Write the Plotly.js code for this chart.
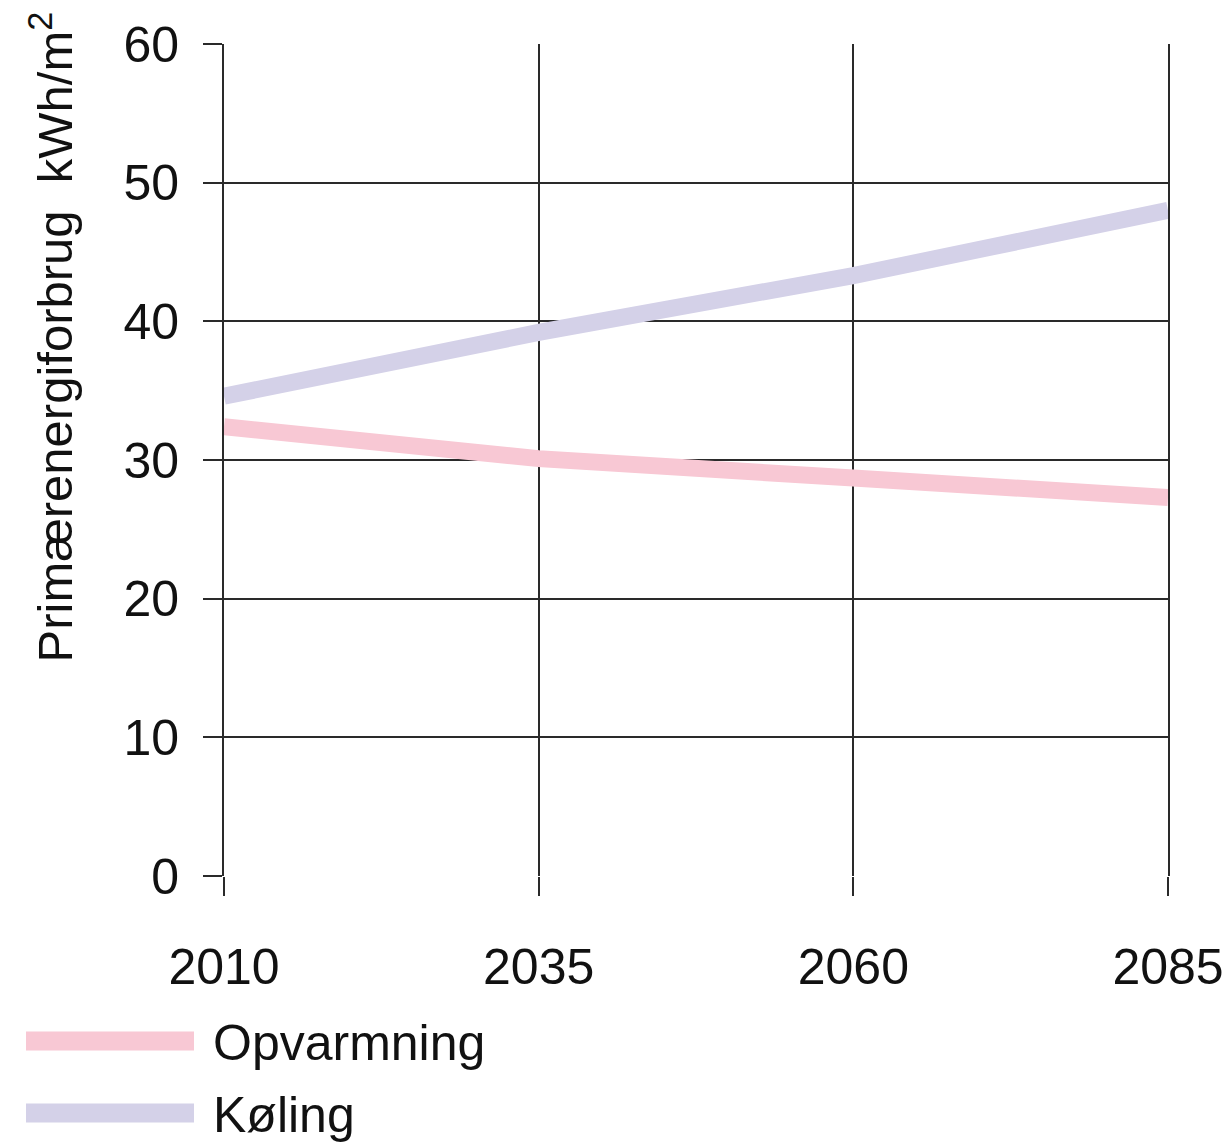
<!DOCTYPE html>
<html>
<head>
<meta charset="utf-8">
<script src="https://cdn.plot.ly/plotly-3.0.1.min.js"></script>
<style>html,body{margin:0;padding:0;background:#fff;}#chart{width:1228px;height:1144px;}</style>
</head>
<body>
<div id="chart"></div>
<script>
var years = [2010, 2035, 2060, 2085];
var opvarmning = [32.4, 30.1, 28.7, 27.3];
var koling = [34.6, 39.2, 43.3, 48.0];
var seriesNames = ["Opvarmning", "Køling"];
var seriesColors = ["#f8c8d4", "#d4d1e8"];
var yTicks = [0, 10, 20, 30, 40, 50, 60];
var yTitle = "Primærenergiforbrug  kWh/m<sup>2</sup>";

var FONT = "'Liberation Sans Narrow', 'Arial Narrow', 'Liberation Sans', Arial, sans-serif";
var W = 1228, H = 1144;
var M = {l: 224, r: 60, t: 44, b: 268};
var PW = W - M.l - M.r, PH = H - M.t - M.b;
function px(x) { return (x - M.l) / PW; }
function py(y) { return (H - M.b - y) / PH; }

var traces = [
  {x: years, y: opvarmning, name: seriesNames[0], mode: "lines",
   line: {color: seriesColors[0], width: 17}, showlegend: false},
  {x: years, y: koling, name: seriesNames[1], mode: "lines",
   line: {color: seriesColors[1], width: 17}, showlegend: false}
];

var legendY = [1041, 1113];
var shapes = [], annotations = [];
for (var i = 0; i < seriesNames.length; i++) {
  shapes.push({type: "line", xref: "paper", yref: "paper",
    x0: px(26), x1: px(194), y0: py(legendY[i]), y1: py(legendY[i]),
    line: {color: seriesColors[i], width: 19}});
  annotations.push({xref: "paper", yref: "paper", x: px(211), y: py(legendY[i] + 2),
    xanchor: "left", yanchor: "middle", showarrow: false, text: seriesNames[i],
    font: {family: FONT, size: 50, color: "#111"}});
}
annotations.push({xref: "paper", yref: "paper", x: px(18), y: py(10),
  xanchor: "left", yanchor: "top", showarrow: false, textangle: -90,
  text: yTitle, font: {family: FONT, size: 49, color: "#111"}});

var layout = {
  width: W, height: H,
  margin: M,
  paper_bgcolor: "#fff", plot_bgcolor: "#fff",
  showlegend: false,
  font: {family: FONT, size: 50, color: "#111"},
  xaxis: {
    range: [2010, 2085], tickmode: "array", tickvals: years, ticktext: years.map(String),
    showgrid: true, gridcolor: "#2a2a2a", gridwidth: 2, zeroline: false,
    ticks: "outside", ticklen: 19, tickwidth: 2, tickcolor: "#2a2a2a",
    showline: false, ticklabelstandoff: 28, ticklabeloverflow: "allow",
    tickfont: {family: FONT, size: 50, color: "#111"}
  },
  yaxis: {
    range: [0, 60], tickmode: "array", tickvals: yTicks,
    showgrid: true, gridcolor: "#2a2a2a", gridwidth: 2, zeroline: false,
    ticks: "outside", ticklen: 19, tickwidth: 2, tickcolor: "#2a2a2a",
    showline: true, mirror: true, linecolor: "#2a2a2a", linewidth: 2,
    ticklabelstandoff: 14, ticklabeloverflow: "allow",
    tickfont: {family: FONT, size: 50, color: "#111"}
  },
  shapes: shapes,
  annotations: annotations
};

Plotly.newPlot("chart", traces, layout, {displayModeBar: false, staticPlot: true});
</script>
</body>
</html>
